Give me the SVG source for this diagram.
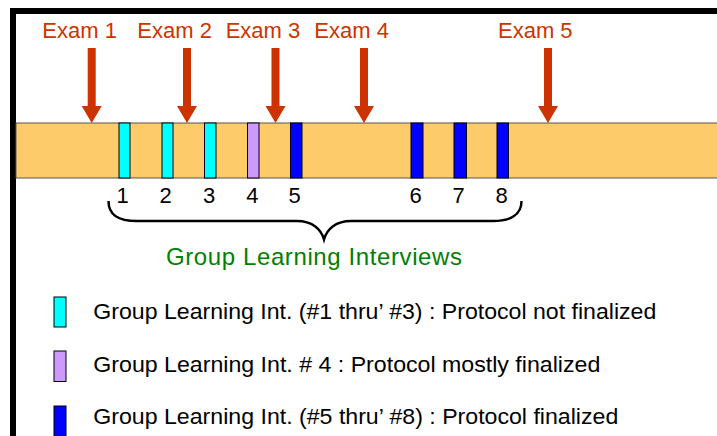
<svg xmlns="http://www.w3.org/2000/svg" width="717" height="436" viewBox="0 0 717 436">
<style>
.exam{font-family:"Liberation Sans",Arial,sans-serif;font-size:22px;fill:#CC3300}
.num{font-family:"Liberation Sans",Arial,sans-serif;font-size:22px;fill:#000;text-anchor:middle}
.leg{font-family:"Liberation Sans",Arial,sans-serif;font-size:22px;fill:#000}
.title{font-family:"Liberation Sans",Arial,sans-serif;font-size:24px;fill:#008000}
.arrow{fill:#CC3300}
.iv{stroke:#000;stroke-width:1}
.cyan{fill:#00FFFF}
.purple{fill:#CC99FF}
.blue{fill:#0000FF}
</style>
<defs>
<path id="arr" d="M-4,0 H4 V58 H10 L0,75 L-10,58 H-4 Z"/>
</defs>
<rect width="717" height="436" fill="#FFFFFF"/>
<path d="M13,436 V11 H717" fill="none" stroke="#000" stroke-width="6"/>
<g id="timeline">
<rect x="16" y="123" width="710" height="55" fill="#FDCB6A" stroke="#555" stroke-width="1"/>
</g>
<g id="interview-1"><rect class="iv cyan" x="119" y="123" width="11" height="55"/><text class="num" x="122.5" y="202.7">1</text></g>
<g id="interview-2"><rect class="iv cyan" x="162" y="123" width="11" height="55"/><text class="num" x="165.7" y="202.7">2</text></g>
<g id="interview-3"><rect class="iv cyan" x="204.5" y="123" width="11.5" height="55"/><text class="num" x="209" y="202.7">3</text></g>
<g id="interview-4"><rect class="iv purple" x="247.5" y="123" width="11.5" height="55"/><text class="num" x="252.3" y="202.7">4</text></g>
<g id="interview-5"><rect class="iv blue" x="290.5" y="123" width="11.5" height="55"/><text class="num" x="294.5" y="202.7">5</text></g>
<g id="interview-6"><rect class="iv blue" x="411" y="123" width="12" height="55"/><text class="num" x="415.7" y="202.7">6</text></g>
<g id="interview-7"><rect class="iv blue" x="454" y="123" width="12.5" height="55"/><text class="num" x="458.7" y="202.7">7</text></g>
<g id="interview-8"><rect class="iv blue" x="497" y="123" width="11.5" height="55"/><text class="num" x="501.7" y="202.7">8</text></g>
<g id="exam-1"><text class="exam" x="42.3" y="38.3">Exam 1</text></g>
<g id="exam-2"><text class="exam" x="137.3" y="38.3">Exam 2</text></g>
<g id="exam-3"><text class="exam" x="225.7" y="38.3">Exam 3</text></g>
<g id="exam-4"><text class="exam" x="314.3" y="38.3">Exam 4</text></g>
<g id="exam-5"><text class="exam" x="498" y="38.3">Exam 5</text></g>
<g id="connectors">
<use href="#arr" class="arrow" x="91.7" y="48"/>
<use href="#arr" class="arrow" x="187" y="48"/>
<use href="#arr" class="arrow" x="275.5" y="48"/>
<use href="#arr" class="arrow" x="364" y="48"/>
<use href="#arr" class="arrow" x="548" y="48"/>
<path d="M108.5,201 C108.5,215 118,221 137,221 L297,221 C312,221 321,229 324,239.5 C327,229 336,221 351,221 L493,221 C510,221 521.5,215 521.5,201" fill="none" stroke="#000" stroke-width="2.5"/>
</g>
<g id="brace-label"><text class="title" x="166" y="265" textLength="296" lengthAdjust="spacing">Group Learning Interviews</text></g>
<g id="legend-1"><rect class="iv cyan" x="54" y="297" width="12" height="30"/><text class="leg" x="93.3" y="318.5" textLength="563" lengthAdjust="spacingAndGlyphs">Group Learning Int. (#1 thru’ #3) : Protocol not finalized</text></g>
<g id="legend-2"><rect class="iv purple" x="54" y="351" width="12" height="30.5"/><text class="leg" x="93.3" y="372" textLength="507" lengthAdjust="spacingAndGlyphs">Group Learning Int. # 4 : Protocol mostly finalized</text></g>
<g id="legend-3"><rect class="iv blue" x="54" y="406" width="12" height="32"/><text class="leg" x="93.3" y="423.5" textLength="525" lengthAdjust="spacingAndGlyphs">Group Learning Int. (#5 thru’ #8) : Protocol finalized</text></g>
</svg>
